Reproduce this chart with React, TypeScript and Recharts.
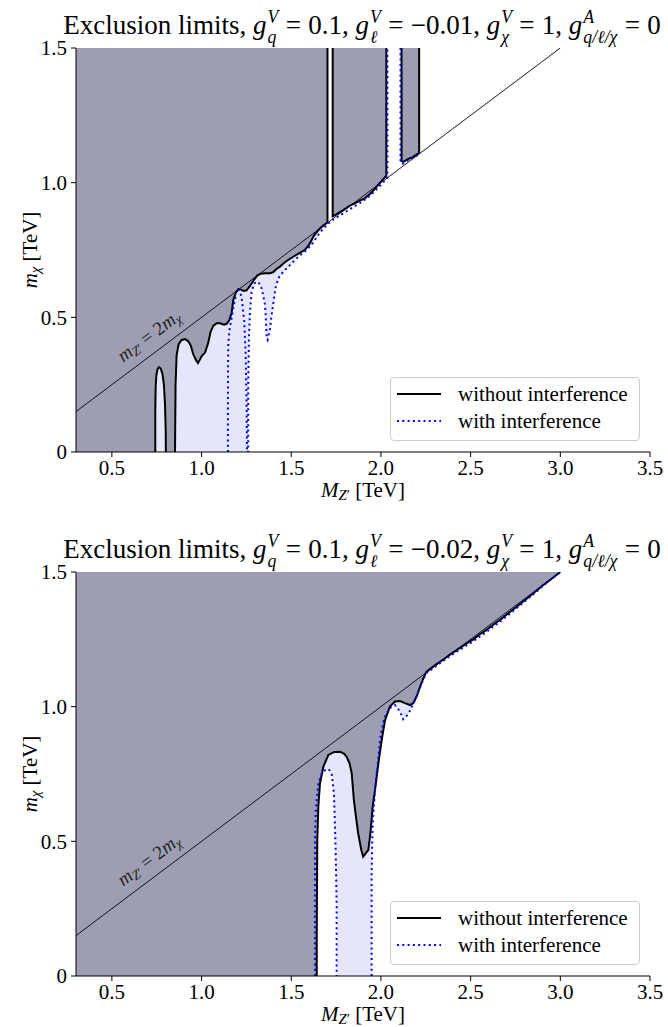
import { ComposedChart, Area, Line, XAxis, YAxis } from 'recharts'
import type { ReactNode } from 'react'

type Pt = [number, number]
type Band = [number, number, number]

const serif = '"Liberation Serif", "Times New Roman", serif'
const DARK = '#9e9eb3'
const LIGHT = '#e6e6fa'
const BLUE = '#0000ff'

const xMajor = [0.5, 1.0, 1.5, 2.0, 2.5, 3.0, 3.5]
const xMinor = [0.3, 0.4, 0.6, 0.7, 0.8, 0.9, 1.1, 1.2, 1.3, 1.4, 1.6, 1.7, 1.8, 1.9, 2.1, 2.2, 2.3, 2.4, 2.6, 2.7, 2.8, 2.9, 3.1, 3.2, 3.3, 3.4]
const yMajor = [0, 0.5, 1.0, 1.5]
const yMinor = [0.1, 0.2, 0.3, 0.4, 0.6, 0.7, 0.8, 0.9, 1.1, 1.2, 1.3, 1.4]
const X_DOMAIN: [number, number] = [0.3, 3.5]
const Y_DOMAIN: [number, number] = [0, 1.5]

// m_Z' = 2 m_chi
const diagonal: Pt[] = [[0.3, 0.15], [3.0, 1.5]]

// ---- top panel: g_l = -0.01 ----
const p1BlackSpike: Pt[] = [
  [0.742, 0], [0.742, 0.15], [0.744, 0.24], [0.748, 0.285], [0.755, 0.308], [0.763, 0.315],
  [0.772, 0.31], [0.782, 0.29], [0.79, 0.25], [0.796, 0.18], [0.8, 0.08], [0.801, 0],
]
const p1BlackMain: Pt[] = [
  [0.852, 0], [0.855, 0.25], [0.861, 0.36], [0.872, 0.4], [0.889, 0.416], [0.908, 0.419],
  [0.925, 0.412], [0.94, 0.395], [0.954, 0.362], [0.97, 0.34], [0.98, 0.33], [0.99, 0.342],
  [1.0, 0.355], [1.02, 0.37], [1.037, 0.405], [1.05, 0.445], [1.065, 0.468], [1.084, 0.478],
  [1.103, 0.478], [1.125, 0.473], [1.14, 0.476], [1.155, 0.49], [1.168, 0.518], [1.177, 0.565],
  [1.19, 0.59], [1.205, 0.605], [1.22, 0.603], [1.235, 0.598], [1.251, 0.6], [1.268, 0.615],
  [1.288, 0.635], [1.31, 0.655], [1.33, 0.662], [1.354, 0.664], [1.382, 0.664], [1.4, 0.668],
  [1.419, 0.68], [1.437, 0.688], [1.456, 0.7], [1.48, 0.712], [1.511, 0.725], [1.545, 0.738],
  [1.575, 0.75], [1.595, 0.765], [1.61, 0.782], [1.623, 0.8], [1.64, 0.815], [1.66, 0.83],
  [1.68, 0.842], [1.702, 0.852], [1.702, 1.5],
]
const p1BlackB: Pt[] = [
  [1.731, 1.5], [1.731, 0.875], [1.75, 0.882], [1.79, 0.898], [1.827, 0.915], [1.86, 0.925],
  [1.883, 0.933], [1.91, 0.942], [1.939, 0.958], [1.97, 0.98], [1.995, 1.0], [2.015, 1.015],
  [2.03, 1.025], [2.03, 1.5],
]
const p1BlackC: Pt[] = [
  [2.115, 1.5], [2.115, 1.08], [2.125, 1.077], [2.15, 1.087], [2.18, 1.096], [2.2, 1.105],
  [2.213, 1.11], [2.213, 1.5],
]
const p1BlueA: Pt[] = [
  [1.147, 0], [1.147, 0.25], [1.149, 0.4], [1.155, 0.45], [1.168, 0.5], [1.18, 0.545], [1.19, 0.578],
]
const p1BlueB: Pt[] = [
  [1.205, 0.605], [1.214, 0.595], [1.224, 0.571], [1.238, 0.484], [1.246, 0.36], [1.251, 0.175],
  [1.253, 0], [1.26, 0], [1.26, 0.236], [1.264, 0.422], [1.27, 0.521], [1.279, 0.595],
  [1.294, 0.626], [1.316, 0.632], [1.335, 0.608], [1.354, 0.546], [1.359, 0.484], [1.363, 0.422],
  [1.368, 0.416], [1.382, 0.459], [1.391, 0.509], [1.404, 0.571], [1.414, 0.614], [1.428, 0.645],
  [1.456, 0.67], [1.484, 0.688], [1.521, 0.713], [1.549, 0.731], [1.586, 0.75], [1.614, 0.77],
  [1.66, 0.815], [1.7, 0.845], [1.731, 0.862], [1.79, 0.886], [1.83, 0.903], [1.883, 0.924],
  [1.94, 0.952], [2.0, 0.992], [2.036, 1.018], [2.036, 1.5],
]
const p1BlueC: Pt[] = [
  [2.109, 1.5], [2.109, 1.075], [2.12, 1.07], [2.14, 1.078], [2.17, 1.09], [2.2, 1.1], [2.213, 1.107],
]
// light band: excluded only with interference [x, low, high]
const p1LightMain: Band[] = [
  [0.852, 0, 0], [0.855, 0, 0.25], [0.861, 0, 0.36], [0.872, 0, 0.4], [0.889, 0, 0.416],
  [0.908, 0, 0.419], [0.925, 0, 0.412], [0.94, 0, 0.395], [0.954, 0, 0.362], [0.97, 0, 0.34],
  [0.98, 0, 0.33], [0.99, 0, 0.342], [1.0, 0, 0.355], [1.02, 0, 0.37], [1.037, 0, 0.405],
  [1.05, 0, 0.445], [1.065, 0, 0.468], [1.084, 0, 0.478], [1.103, 0, 0.478], [1.125, 0, 0.473],
  [1.14, 0, 0.476], [1.155, 0, 0.49], [1.168, 0, 0.518], [1.177, 0, 0.565], [1.19, 0, 0.59],
  [1.205, 0, 0.605], [1.22, 0, 0.603], [1.235, 0, 0.598], [1.251, 0, 0.6], [1.26, 0, 0.607],
  [1.26, 0.236, 0.607], [1.264, 0.422, 0.61], [1.27, 0.521, 0.615], [1.279, 0.595, 0.625],
  [1.294, 0.626, 0.64], [1.316, 0.632, 0.657], [1.335, 0.608, 0.662], [1.354, 0.546, 0.664],
  [1.359, 0.484, 0.664], [1.363, 0.422, 0.664], [1.368, 0.416, 0.664], [1.382, 0.459, 0.664],
  [1.391, 0.509, 0.666], [1.404, 0.571, 0.669], [1.414, 0.614, 0.676], [1.428, 0.645, 0.684],
  [1.456, 0.67, 0.7], [1.484, 0.688, 0.714], [1.521, 0.713, 0.729], [1.549, 0.731, 0.739],
  [1.586, 0.75, 0.758], [1.614, 0.77, 0.786], [1.66, 0.815, 0.83], [1.7, 0.845, 0.851],
]

// ---- bottom panel: g_l = -0.02 ----
const p2Black: Pt[] = [
  [1.642, 0], [1.642, 0.134], [1.645, 0.505], [1.651, 0.629], [1.66, 0.715], [1.679, 0.777],
  [1.707, 0.821], [1.74, 0.832], [1.772, 0.833], [1.795, 0.825], [1.809, 0.814], [1.825, 0.79],
  [1.837, 0.753], [1.849, 0.654], [1.862, 0.585], [1.873, 0.53], [1.89, 0.47], [1.901, 0.443],
  [1.915, 0.455], [1.93, 0.468], [1.943, 0.542], [1.954, 0.629], [1.967, 0.691], [1.986, 0.79],
  [2.004, 0.876], [2.023, 0.95], [2.05, 1.0], [2.078, 1.019], [2.106, 1.021], [2.134, 1.013],
  [2.162, 1.006], [2.18, 1.013], [2.199, 1.037], [2.218, 1.074], [2.236, 1.105], [2.254, 1.13],
  [2.28, 1.143], [2.31, 1.158], [2.35, 1.176], [2.385, 1.193], [2.441, 1.218], [2.48, 1.236],
  [2.515, 1.25], [2.55, 1.268], [2.589, 1.285], [2.63, 1.306], [2.664, 1.322], [2.71, 1.347],
  [2.757, 1.371], [2.8, 1.394], [2.85, 1.421], [2.9, 1.449], [2.95, 1.474], [3.0, 1.5],
]
const p2BlueSpike: Pt[] = [
  [1.632, 0], [1.632, 0.505], [1.638, 0.629], [1.651, 0.715], [1.665, 0.745], [1.679, 0.759],
  [1.695, 0.768], [1.707, 0.768], [1.718, 0.76], [1.726, 0.747], [1.738, 0.678], [1.746, 0.505],
  [1.751, 0.35], [1.753, 0.257], [1.753, 0],
]
const p2BlueRight: Pt[] = [
  [1.948, 0], [1.948, 0.381], [1.954, 0.567], [1.967, 0.691], [1.986, 0.814], [1.995, 0.876],
  [2.004, 0.913], [2.02, 0.96], [2.05, 0.995], [2.078, 1.006], [2.106, 0.982], [2.124, 0.953],
  [2.143, 0.966], [2.162, 0.985], [2.18, 1.01], [2.208, 1.055], [2.236, 1.1], [2.254, 1.125],
  [2.31, 1.152], [2.385, 1.188], [2.441, 1.212], [2.515, 1.243], [2.589, 1.278], [2.664, 1.316],
  [2.757, 1.366], [2.85, 1.418], [2.924, 1.46], [3.0, 1.5],
]
const p2Light: Band[] = [
  [1.66, 0.715, 0.715], [1.679, 0.759, 0.777], [1.707, 0.768, 0.821], [1.726, 0.747, 0.829],
  [1.738, 0.678, 0.831], [1.746, 0.505, 0.832], [1.753, 0.257, 0.832], [1.753, 0, 0.832],
  [1.772, 0, 0.833], [1.795, 0, 0.825], [1.809, 0, 0.814], [1.825, 0, 0.79], [1.837, 0, 0.753],
  [1.849, 0, 0.654], [1.862, 0, 0.585], [1.873, 0, 0.53], [1.89, 0, 0.47], [1.901, 0, 0.443],
  [1.915, 0, 0.455], [1.93, 0, 0.468], [1.943, 0, 0.542], [1.948, 0, 0.58], [1.948, 0.381, 0.58],
  [1.954, 0.567, 0.629], [1.967, 0.691, 0.691],
]
const p2LightDip: Band[] = [
  [2.078, 1.006, 1.019], [2.106, 0.982, 1.021], [2.124, 0.953, 1.015], [2.143, 0.966, 1.01],
  [2.162, 0.985, 1.006], [2.18, 1.01, 1.013],
]

const yTop = Y_DOMAIN[1]
const toPts = (a: Pt[]) => a.map(([x, y]) => ({ x, y }))
const toBand = (a: Band[]) => a.map(([x, lo, hi]) => ({ x, r: [lo, hi] }))
const fillAbove = (a: Pt[]) => a.map(([x, y]) => ({ x, r: [y, yTop] }))
const fillBelow = (a: Pt[]) => a.map(([x, y]) => ({ x, r: [0, y] }))

const fmt = (v: number) => (v === 0 ? '0' : v.toFixed(1))
const tickStyle = { fill: '#000', fontSize: 21, fontFamily: serif }

type AreaData = { x: number; r: number[] }[]

function Panel({ top, height, dark, light, black, blue }: {
  top: number; height: number; dark: AreaData[]; light: AreaData[]; black: Pt[][]; blue: Pt[][]
}) {
  return (
    <div style={{ position: 'absolute', left: 0, top }}>
      <ComposedChart width={668} height={height} margin={{ top: 48, right: 18, bottom: height - 452 - 30, left: 26 }}>
        <XAxis xAxisId="minor" type="number" dataKey="x" domain={X_DOMAIN} ticks={xMinor} tick={false}
          tickSize={3} axisLine={false} tickLine={{ stroke: '#000' }} height={0} allowDataOverflow interval={0} />
        <XAxis type="number" dataKey="x" domain={X_DOMAIN} ticks={xMajor} tickFormatter={fmt} interval={0}
          tickSize={5} tickMargin={3} height={30} allowDataOverflow tick={tickStyle}
          axisLine={{ stroke: '#000' }} tickLine={{ stroke: '#000' }} />
        <XAxis xAxisId="top" orientation="top" type="number" dataKey="x" domain={X_DOMAIN} tick={false}
          tickLine={false} height={0} allowDataOverflow axisLine={{ stroke: '#000' }} />
        <YAxis yAxisId="minor" type="number" domain={Y_DOMAIN} ticks={yMinor} tick={false} tickSize={3}
          axisLine={false} tickLine={{ stroke: '#000' }} width={0} allowDataOverflow interval={0} />
        <YAxis type="number" domain={Y_DOMAIN} ticks={yMajor} tickFormatter={fmt} interval={0} tickSize={5}
          tickMargin={4} width={50} allowDataOverflow tick={tickStyle}
          axisLine={{ stroke: '#000' }} tickLine={{ stroke: '#000' }} />
        <YAxis yAxisId="right" orientation="right" type="number" domain={Y_DOMAIN} tick={false}
          tickLine={false} width={0} allowDataOverflow axisLine={{ stroke: '#000' }} />

        {dark.map((d, i) => (
          <Area key={'d' + i} data={d} dataKey="r" type="linear" stroke="none" fill={DARK} fillOpacity={1}
            dot={false} activeDot={false} isAnimationActive={false} />
        ))}
        {light.map((d, i) => (
          <Area key={'l' + i} data={d} dataKey="r" type="linear" stroke="none" fill={LIGHT} fillOpacity={1}
            dot={false} activeDot={false} isAnimationActive={false} />
        ))}
        <Line data={toPts(diagonal)} dataKey="y" type="linear" stroke="#000" strokeWidth={0.9}
          dot={false} activeDot={false} isAnimationActive={false} />
        {black.map((d, i) => (
          <Line key={'k' + i} data={toPts(d)} dataKey="y" type="linear" stroke="#000" strokeWidth={2}
            dot={false} activeDot={false} isAnimationActive={false} />
        ))}
        {blue.map((d, i) => (
          <Line key={'b' + i} data={toPts(d)} dataKey="y" type="linear" stroke={BLUE} strokeWidth={2}
            strokeDasharray="2 3.3" dot={false} activeDot={false} isAnimationActive={false} />
        ))}
      </ComposedChart>
    </div>
  )
}

function Sub({ children }: { children: ReactNode }) {
  return <span style={{ fontSize: '0.7em', verticalAlign: '-0.2em', lineHeight: 0 }}>{children}</span>
}

function G({ sub, sup }: { sub: string; sup: string }) {
  return (
    <span style={{ whiteSpace: 'nowrap' }}>
      <i>g</i>
      <span style={{ display: 'inline-flex', flexDirection: 'column', fontSize: '0.66em', lineHeight: 1.12,
        verticalAlign: '0.6em', marginLeft: 1 }}>
        <i>{sup}</i><i>{sub}</i>
      </span>
    </span>
  )
}

function Eq() {
  return <span style={{ margin: '0 0.27em' }}>=</span>
}

function Title({ y, gl }: { y: number; gl: string }) {
  return (
    <div style={{ position: 'absolute', left: 362, top: y, transform: 'translateX(-50%)', whiteSpace: 'nowrap',
      fontFamily: serif, fontSize: 27, lineHeight: '30px', height: 30 }}>
      Exclusion limits, <G sub="q" sup="V" /><Eq />0.1, <G sub="ℓ" sup="V" /><Eq />{gl}, <G sub="χ" sup="V" /><Eq />1,{' '}
      <G sub="q/ℓ/χ" sup="A" /><Eq />0
    </div>
  )
}

function AxisLabels({ dy }: { dy: number }) {
  return (
    <>
      <div style={{ position: 'absolute', left: 363, top: 480 + dy, transform: 'translateX(-50%)',
        fontFamily: serif, fontSize: 21, lineHeight: '20px', whiteSpace: 'nowrap' }}>
        <i>M</i><Sub><i>Z</i>′</Sub> [TeV]
      </div>
      <div style={{ position: 'absolute', left: 30, top: 250 + dy, transform: 'translate(-50%, -50%) rotate(-90deg)',
        fontFamily: serif, fontSize: 21, lineHeight: '24px', whiteSpace: 'nowrap' }}>
        <i>m</i><Sub><i>χ</i></Sub> [TeV]
      </div>
      <div style={{ position: 'absolute', left: 149, top: 336 + dy, transform: 'translate(-50%, -50%) rotate(-36.9deg)',
        fontFamily: serif, fontSize: 19, lineHeight: '20px', whiteSpace: 'nowrap', color: '#222' }}>
        <i>m</i><Sub><i>Z</i>′</Sub> = 2<i>m</i><Sub><i>χ</i></Sub>
      </div>
      <div style={{ position: 'absolute', left: 390, top: 377 + dy, width: 250, height: 64, boxSizing: 'border-box',
        border: '1px solid #cccccc', borderRadius: 4, background: 'rgba(255,255,255,0.8)', fontFamily: serif, fontSize: 21 }}>
        {[{ label: 'without interference', dash: undefined, color: '#000' },
          { label: 'with interference', dash: '2 3.3', color: BLUE }].map((e, i) => (
          <div key={e.label} style={{ position: 'absolute', left: 6, top: 4 + i * 27, height: 24, display: 'flex', alignItems: 'center' }}>
            <svg width={44} height={10} style={{ display: 'block' }}>
              <line x1={0} y1={5} x2={44} y2={5} stroke={e.color} strokeWidth={2} strokeDasharray={e.dash} />
            </svg>
            <span style={{ marginLeft: 17, whiteSpace: 'nowrap' }}>{e.label}</span>
          </div>
        ))}
      </div>
    </>
  )
}

export default function App() {
  return (
    <div style={{ position: 'absolute', left: 0, top: 0, width: 668, height: 1027, background: '#fff', overflow: 'hidden' }}>
      <Title y={8} gl="−0.01" />
      <Panel top={0} height={520}
        dark={[fillAbove([[0.3, 0], ...p1BlackMain]), fillAbove(p1BlackB), fillAbove(p1BlackC)]}
        light={[fillBelow(p1BlackSpike), toBand(p1LightMain)]}
        black={[p1BlackSpike, p1BlackMain, p1BlackB, p1BlackC]}
        blue={[p1BlueA, p1BlueB, p1BlueC]} />
      <AxisLabels dy={0} />

      <Title y={532} gl="−0.02" />
      <Panel top={524} height={503}
        dark={[fillAbove([[0.3, 0], ...p2Black])]}
        light={[toBand(p2Light), toBand(p2LightDip)]}
        black={[p2Black]}
        blue={[p2BlueSpike, p2BlueRight]} />
      <AxisLabels dy={524} />
    </div>
  )
}
